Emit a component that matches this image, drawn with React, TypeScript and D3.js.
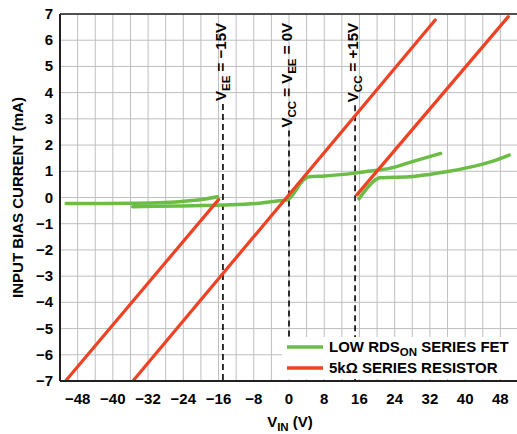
import React, { useRef, useEffect } from 'react';
import * as d3 from 'd3';

const WIDTH = 517;
const HEIGHT = 434;

const xTicks = [-48, -40, -32, -24, -16, -8, 0, 8, 16, 24, 32, 40, 48];
const yTicks = [-7, -6, -5, -4, -3, -2, -1, 0, 1, 2, 3, 4, 5, 6, 7];

// green: low RDS(on) series FET, one curve per supply setting
const fetVee15: [number, number][] = [
  [-50.6, -0.23], [-42, -0.23], [-35.6, -0.22], [-30, -0.2], [-24.9, -0.16],
  [-19.6, -0.07], [-16.2, 0.03],
];
const fetZero: [number, number][] = [
  [-35.5, -0.35], [-25, -0.32], [-15, -0.29], [-6.7, -0.22], [-2.2, -0.12],
  [-0.5, -0.1], [3.5, 0.7], [4.3, 0.78], [8, 0.82], [14.5, 0.92], [18, 1.0],
  [22.8, 1.11], [28, 1.37], [34.4, 1.68],
];
const fetVcc15: [number, number][] = [
  [15.9, -0.05], [19.9, 0.7], [20.6, 0.75], [28.1, 0.8], [31.9, 0.88],
  [35.7, 0.98], [40.3, 1.13], [46.3, 1.39], [50, 1.62],
];

// red: 5k series resistor
const resVee15: [number, number][] = [[-50.6, -6.97], [-16, -0.08]];
const resZero: [number, number][] = [[-35.3, -6.97], [33.2, 6.77]];
const resVcc15: [number, number][] = [[15.4, 0.1], [49.8, 6.9]];

const supplyLines = [
  { v: -15, label: 'V', sub: 'EE', rest: ' = \u221215V' },
  { v: 0, label: 'V', sub: 'CC', rest: ' = V', sub2: 'EE', rest2: ' = 0V' },
  { v: 15, label: 'V', sub: 'CC', rest: ' = +15V' },
];

const colors = {
  green: '#6cbd45',
  red: '#ef4123',
  grid: '#bcbec0',
  axis: '#231f20',
};

const font = '"Liberation Sans", Arial, sans-serif';

const App: React.FC = () => {
  const svgRef = useRef<SVGSVGElement>(null);

  useEffect(() => {
    if (!svgRef.current) return;
    const svg = d3.select(svgRef.current);
    svg.selectAll('*').remove();

    const left = 60, right = 518, top = 14, bottom = 381;

    const x = d3.scaleLinear().domain([-52, 52]).range([left, right]);
    const y = d3.scaleLinear().domain([-7, 7]).range([bottom, top]);

    const g = svg.append('g').attr('font-family', font);

    // grid
    g.append('g')
      .selectAll('line')
      .data(d3.range(-48, 53, 4))
      .enter()
      .append('line')
      .attr('x1', d => x(d)).attr('x2', d => x(d))
      .attr('y1', top).attr('y2', bottom)
      .attr('stroke', colors.grid)
      .attr('stroke-width', 1);

    g.append('g')
      .selectAll('line')
      .data(yTicks)
      .enter()
      .append('line')
      .attr('x1', left).attr('x2', right)
      .attr('y1', d => y(d)).attr('y2', d => y(d))
      .attr('stroke', colors.grid)
      .attr('stroke-width', 1);

    // dashed supply markers + labels
    supplyLines.forEach(s => {
      const sx = x(s.v);
      const t = g.append('text')
        .attr('transform', `translate(${sx + 3},23) rotate(-90)`)
        .attr('text-anchor', 'end')
        .attr('font-size', '15px')
        .attr('font-weight', 700)
        .attr('fill', '#000');
      t.append('tspan').text(s.label);
      t.append('tspan').attr('font-size', '11.5px').attr('dy', 4).text(s.sub);
      t.append('tspan').attr('dy', -4).text(s.rest);
      if (s.sub2) {
        t.append('tspan').attr('font-size', '11.5px').attr('dy', 4).text(s.sub2);
        t.append('tspan').attr('dy', -4).text(s.rest2!);
      }
      const len = (t.node() as SVGTextElement).getComputedTextLength();
      g.append('line')
        .attr('x1', sx).attr('x2', sx)
        .attr('y1', 23 + len + 3).attr('y2', bottom)
        .attr('stroke', '#000')
        .attr('stroke-width', 1.6)
        .attr('stroke-dasharray', '6,4');
    });

    const line = d3.line<[number, number]>()
      .x(d => x(d[0]))
      .y(d => y(d[1]))
      .curve(d3.curveMonotoneX);

    [fetVee15, fetZero, fetVcc15].forEach(data => {
      g.append('path')
        .attr('d', line(data)!)
        .attr('fill', 'none')
        .attr('stroke', colors.green)
        .attr('stroke-width', 3.5)
        .attr('stroke-linecap', 'round')
        .attr('stroke-linejoin', 'round');
    });

    [resVee15, resZero, resVcc15].forEach(data => {
      g.append('path')
        .attr('d', line(data)!)
        .attr('fill', 'none')
        .attr('stroke', colors.red)
        .attr('stroke-width', 3.2)
        .attr('stroke-linecap', 'round');
    });

    // legend
    const lg = g.append('g');
    lg.append('rect')
      .attr('x', 282).attr('y', 337)
      .attr('width', right - 282).attr('height', bottom - 337 - 2)
      .attr('fill', '#fff');

    const legendItems = [
      { color: colors.green, y: 347 },
      { color: colors.red, y: 368 },
    ];
    legendItems.forEach(it => {
      lg.append('line')
        .attr('x1', 287).attr('x2', 323)
        .attr('y1', it.y).attr('y2', it.y)
        .attr('stroke', it.color)
        .attr('stroke-width', 3.5);
    });
    const t1 = lg.append('text')
      .attr('x', 329).attr('y', 352)
      .attr('font-size', '15px').attr('font-weight', 700).attr('fill', '#000');
    t1.append('tspan').text('LOW RDS');
    t1.append('tspan').attr('font-size', '11.5px').attr('dy', 4).text('ON');
    t1.append('tspan').attr('dy', -4).text(' SERIES FET');
    lg.append('text')
      .attr('x', 329).attr('y', 373)
      .attr('font-size', '15px').attr('font-weight', 700).attr('fill', '#000')
      .text('5k\u03a9 SERIES RESISTOR');

    // frame
    g.append('line')
      .attr('x1', left).attr('x2', right).attr('y1', top).attr('y2', top)
      .attr('stroke', colors.axis).attr('stroke-width', 1.5);
    g.append('line')
      .attr('x1', left).attr('x2', right).attr('y1', bottom).attr('y2', bottom)
      .attr('stroke', colors.axis).attr('stroke-width', 2);
    g.append('line')
      .attr('x1', left).attr('x2', left).attr('y1', top).attr('y2', bottom)
      .attr('stroke', colors.axis).attr('stroke-width', 2);

    // tick labels
    g.append('g')
      .selectAll('text')
      .data(xTicks)
      .enter()
      .append('text')
      .attr('x', d => x(d))
      .attr('y', 404)
      .attr('text-anchor', 'middle')
      .attr('font-size', '15px')
      .attr('font-weight', 700)
      .text(d => (d < 0 ? '\u2212' + Math.abs(d) : String(d)));

    g.append('g')
      .selectAll('text')
      .data(yTicks)
      .enter()
      .append('text')
      .attr('x', 53)
      .attr('y', d => y(d) + 5)
      .attr('text-anchor', 'end')
      .attr('font-size', '15px')
      .attr('font-weight', 700)
      .text(d => (d < 0 ? '\u2212' + Math.abs(d) : String(d)));

    // axis titles
    const xt = g.append('text')
      .attr('x', 290).attr('y', 427)
      .attr('text-anchor', 'middle')
      .attr('font-size', '15px').attr('font-weight', 700);
    xt.append('tspan').text('V');
    xt.append('tspan').attr('font-size', '11.5px').attr('dy', 4).text('IN');
    xt.append('tspan').attr('dy', -4).text(' (V)');

    g.append('text')
      .attr('transform', `translate(23,${(top + bottom) / 2}) rotate(-90)`)
      .attr('text-anchor', 'middle')
      .attr('font-size', '15px').attr('font-weight', 700)
      .text('INPUT BIAS CURRENT (mA)');
  }, []);

  return (
    <svg
      ref={svgRef}
      width={WIDTH}
      height={HEIGHT}
      style={{ position: 'absolute', left: 0, top: 0, background: '#fff' }}
    />
  );
};

export default App;
